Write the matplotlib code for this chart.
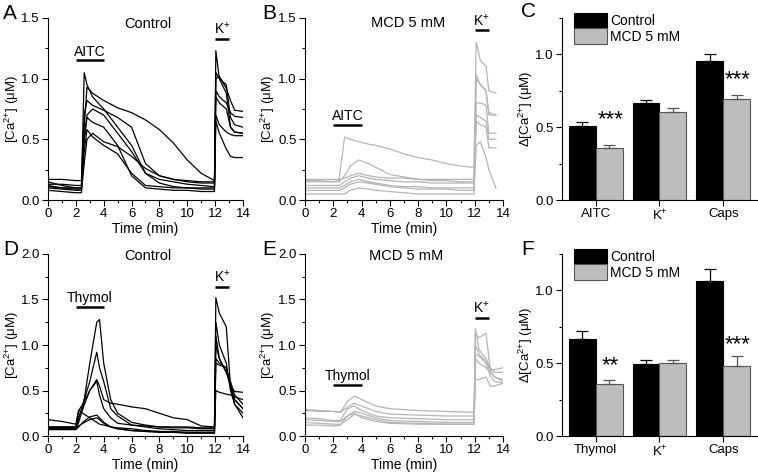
import numpy as np
import matplotlib
matplotlib.use("Agg")
import matplotlib.pyplot as plt
from matplotlib.ticker import MultipleLocator, FormatStrFormatter

plt.rcParams['font.family'] = ['Liberation Sans', 'DejaVu Sans']
plt.rcParams['font.size'] = 10
plt.rcParams['mathtext.fontset'] = 'custom'
plt.rcParams['mathtext.rm'] = 'Liberation Sans'
plt.rcParams['mathtext.it'] = 'Liberation Sans:italic'
plt.rcParams['mathtext.bf'] = 'Liberation Sans:bold'

# ---- panel A: control, AITC ----
tA = [0, 1, 2, 2.4, 2.6, 2.8, 3.2, 4, 5, 6, 7, 8, 9, 10, 11, 11.95, 12.05, 12.3, 12.8, 13.1, 13.4, 14]
tracesA = [
    [0.13, 0.13, 0.12, 0.12, 0.60, 0.93, 0.88, 0.82, 0.76, 0.72, 0.66, 0.58, 0.47, 0.33, 0.22, 0.16, 1.00, 1.02, 0.92, 0.82, 0.74, 0.73],
    [0.15, 0.12, 0.10, 0.10, 1.05, 0.95, 0.85, 0.75, 0.60, 0.45, 0.22, 0.17, 0.15, 0.13, 0.12, 0.11, 1.23, 1.00, 0.88, 0.60, 0.56, 0.55],
    [0.17, 0.17, 0.16, 0.16, 0.70, 0.82, 0.78, 0.74, 0.68, 0.60, 0.30, 0.20, 0.17, 0.16, 0.15, 0.15, 1.05, 1.00, 0.95, 0.68, 0.62, 0.60],
    [0.12, 0.10, 0.10, 0.10, 0.50, 0.70, 0.75, 0.70, 0.55, 0.40, 0.22, 0.14, 0.11, 0.10, 0.09, 0.09, 0.90, 0.85, 0.80, 0.72, 0.69, 0.68],
    [0.10, 0.09, 0.08, 0.08, 0.50, 0.68, 0.64, 0.60, 0.45, 0.20, 0.10, 0.09, 0.08, 0.08, 0.07, 0.07, 0.85, 0.80, 0.75, 0.60, 0.56, 0.55],
    [0.11, 0.10, 0.09, 0.09, 0.40, 0.58, 0.52, 0.45, 0.38, 0.22, 0.12, 0.11, 0.10, 0.10, 0.10, 0.10, 0.70, 0.62, 0.56, 0.54, 0.53, 0.53],
    [0.08, 0.07, 0.06, 0.06, 0.30, 0.50, 0.55, 0.48, 0.44, 0.36, 0.26, 0.20, 0.17, 0.15, 0.14, 0.14, 0.65, 0.55, 0.42, 0.36, 0.35, 0.35],
]

# ---- panel B: MCD, AITC ----
tB = [0, 1, 2, 2.4, 2.8, 3.2, 3.8, 4.5, 5, 6, 7, 8, 9, 10, 11, 11.95, 12.1, 12.4, 12.8, 13.0, 13.5]
tracesB = [
    [0.15, 0.15, 0.15, 0.16, 0.52, 0.50, 0.48, 0.46, 0.45, 0.42, 0.38, 0.35, 0.33, 0.30, 0.28, 0.27, 1.30, 1.15, 1.10, 0.90, 0.88],
    [0.16, 0.16, 0.15, 0.15, 0.20, 0.28, 0.33, 0.30, 0.27, 0.21, 0.19, 0.17, 0.16, 0.16, 0.15, 0.15, 1.03, 0.95, 0.90, 0.72, 0.70],
    [0.17, 0.17, 0.17, 0.17, 0.18, 0.20, 0.22, 0.20, 0.19, 0.18, 0.18, 0.17, 0.17, 0.17, 0.17, 0.17, 1.00, 0.95, 0.90, 0.70, 0.70],
    [0.12, 0.12, 0.12, 0.12, 0.15, 0.18, 0.20, 0.18, 0.17, 0.16, 0.15, 0.15, 0.14, 0.14, 0.14, 0.14, 0.80, 0.80, 0.78, 0.55, 0.55],
    [0.10, 0.10, 0.10, 0.10, 0.12, 0.15, 0.17, 0.15, 0.14, 0.12, 0.11, 0.11, 0.10, 0.10, 0.10, 0.10, 0.65, 0.62, 0.60, 0.43, 0.43],
    [0.05, 0.05, 0.05, 0.05, 0.05, 0.08, 0.10, 0.09, 0.08, 0.07, 0.06, 0.05, 0.05, 0.05, 0.05, 0.05, 0.45, 0.48, 0.35, 0.25, 0.10],
    [0.08, 0.08, 0.08, 0.08, 0.10, 0.13, 0.15, 0.14, 0.13, 0.11, 0.10, 0.09, 0.09, 0.09, 0.08, 0.08, 0.70, 0.68, 0.65, 0.50, 0.50],
]

# ---- panel D: control, thymol ----
tD = [0, 1, 2, 2.2, 2.5, 3, 3.5, 3.7, 4, 4.5, 5, 6, 7, 8, 9, 10, 11, 11.95, 12.05, 12.3, 12.8, 13.1, 13.4, 14]
tracesD = [
    [0.08, 0.08, 0.08, 0.15, 0.30, 0.80, 1.25, 1.28, 0.80, 0.40, 0.25, 0.15, 0.12, 0.10, 0.09, 0.09, 0.08, 0.08, 1.25, 1.00, 0.80, 0.50, 0.35, 0.25],
    [0.08, 0.08, 0.08, 0.20, 0.35, 0.60, 0.92, 0.75, 0.60, 0.30, 0.22, 0.12, 0.10, 0.08, 0.07, 0.06, 0.06, 0.06, 1.52, 1.35, 1.20, 0.55, 0.40, 0.30],
    [0.10, 0.10, 0.10, 0.28, 0.35, 0.50, 0.62, 0.55, 0.40, 0.36, 0.35, 0.32, 0.30, 0.25, 0.20, 0.18, 0.11, 0.10, 0.50, 0.48, 0.46, 0.45, 0.43, 0.40],
    [0.18, 0.16, 0.13, 0.28, 0.25, 0.20, 0.15, 0.13, 0.12, 0.10, 0.09, 0.08, 0.06, 0.05, 0.05, 0.04, 0.04, 0.04, 0.80, 0.78, 0.75, 0.55, 0.49, 0.48],
    [0.07, 0.07, 0.07, 0.10, 0.15, 0.21, 0.23, 0.20, 0.15, 0.10, 0.08, 0.06, 0.05, 0.05, 0.04, 0.04, 0.04, 0.04, 1.10, 0.85, 0.70, 0.55, 0.40, 0.30],
    [0.09, 0.09, 0.09, 0.11, 0.14, 0.18, 0.20, 0.18, 0.14, 0.10, 0.08, 0.06, 0.05, 0.04, 0.04, 0.03, 0.03, 0.03, 0.85, 0.80, 0.75, 0.55, 0.35, 0.20],
    [0.10, 0.10, 0.10, 0.20, 0.30, 0.50, 0.60, 0.45, 0.30, 0.20, 0.14, 0.12, 0.11, 0.10, 0.10, 0.10, 0.09, 0.09, 1.00, 0.85, 0.70, 0.60, 0.45, 0.35],
]

# ---- panel E: MCD, thymol ----
tE = [0, 1, 2, 2.5, 3, 3.5, 4, 5, 6, 8, 10, 11.95, 12.05, 12.3, 12.8, 13.1, 13.4, 14]
tracesE = [
    [0.29, 0.28, 0.27, 0.26, 0.38, 0.44, 0.40, 0.33, 0.30, 0.28, 0.27, 0.26, 0.85, 0.80, 0.75, 0.70, 0.65, 0.60],
    [0.28, 0.27, 0.27, 0.26, 0.32, 0.36, 0.33, 0.27, 0.24, 0.23, 0.22, 0.22, 1.13, 1.08, 1.13, 0.72, 0.73, 0.75],
    [0.20, 0.19, 0.17, 0.17, 0.30, 0.33, 0.28, 0.22, 0.20, 0.19, 0.18, 0.18, 1.18, 0.95, 0.85, 0.75, 0.70, 0.70],
    [0.18, 0.17, 0.16, 0.16, 0.22, 0.27, 0.25, 0.20, 0.17, 0.16, 0.15, 0.15, 1.00, 0.90, 0.82, 0.72, 0.65, 0.62],
    [0.15, 0.14, 0.13, 0.13, 0.18, 0.24, 0.22, 0.18, 0.15, 0.14, 0.13, 0.13, 0.90, 0.88, 0.80, 0.66, 0.60, 0.58],
    [0.12, 0.12, 0.11, 0.12, 0.22, 0.25, 0.20, 0.16, 0.14, 0.13, 0.13, 0.13, 0.62, 0.62, 0.65, 0.55, 0.55, 0.58],
]

# ---- bar panels C and F ----
groupsC = ['AITC', 'K$^{+}$', 'Caps']
ctrlC = [0.51, 0.667, 0.952]
ctrlC_err = [0.024, 0.023, 0.053]
mcdC = [0.36, 0.603, 0.692]
mcdC_err = [0.015, 0.027, 0.029]
starsC = ['***', '', '***']
starsC_y = [0.555, 0, 0.825]

groupsF = ['Thymol', 'K$^{+}$', 'Caps']
ctrlF = [0.665, 0.496, 1.064]
ctrlF_err = [0.055, 0.024, 0.086]
mcdF = [0.357, 0.50, 0.478]
mcdF_err = [0.03, 0.02, 0.069]
starsF = ['**', '', '***']
starsF_y = [0.485, 0, 0.625]

GRAY_LINE = '#b5b5b5'
GRAY_BAR = '#bdbdbd'
CA = '[Ca$^{2{+}}$] (μM)'

fig = plt.figure(figsize=(7.58, 4.76), dpi=100)


def style_axis(ax):
    for s in ['top', 'right']:
        ax.spines[s].set_visible(False)
    ax.tick_params(which='major', direction='out', length=4, width=0.8, labelsize=9.5, pad=2)
    ax.tick_params(which='minor', direction='out', length=2.5, width=0.8)
    ax.yaxis.set_major_formatter(FormatStrFormatter('%.1f'))


def stim(ax, x0, x1, y, label):
    ax.plot([x0, x1], [y, y], color='k', lw=1.8, solid_capstyle='butt', clip_on=False)
    ax.text((x0 + x1) / 2, y + 0.01 * ax.get_ylim()[1], label, ha='center', va='bottom', fontsize=10)


def trace_panel(rect, t, traces, color, ymax, title, title_x, title_y):
    ax = fig.add_axes(rect)
    for tr in traces:
        ax.plot(t, tr, color=color, lw=0.9)
    ax.set_xlim(0, 14)
    ax.set_ylim(0, ymax)
    ax.xaxis.set_major_locator(MultipleLocator(2))
    ax.xaxis.set_minor_locator(MultipleLocator(1))
    ax.yaxis.set_major_locator(MultipleLocator(0.5))
    ax.yaxis.set_minor_locator(MultipleLocator(0.25))
    style_axis(ax)
    ax.set_xlabel('Time (min)', labelpad=1)
    ax.set_ylabel(CA, fontsize=9.5)
    ax.yaxis.set_label_coords(-0.14, 0.5)
    ax.text(title_x, title_y, title, transform=ax.transAxes, ha='center', va='center', fontsize=10.5)
    return ax


def bar_panel(rect, groups, ctrl, ctrl_err, mcd, mcd_err, stars, stars_y):
    ax = fig.add_axes(rect)
    x = np.arange(len(groups))
    w = 0.42
    ax.bar(x - w / 2, ctrl, w, color='k', edgecolor='k', lw=0.8, label='Control')
    ax.bar(x + w / 2, mcd, w, color=GRAY_BAR, edgecolor='#555555', lw=0.8, label='MCD 5 mM')
    ax.errorbar(x - w / 2, ctrl, yerr=[np.zeros(len(x)), ctrl_err], fmt='none',
                ecolor='k', elinewidth=0.9, capsize=4, capthick=0.9)
    ax.errorbar(x + w / 2, mcd, yerr=[np.zeros(len(x)), mcd_err], fmt='none',
                ecolor='#555555', elinewidth=0.9, capsize=4, capthick=0.9)
    for xi, s, sy in zip(x, stars, stars_y):
        if s:
            ax.text(xi + w / 2 + 0.02, sy, s, ha='center', va='center', fontsize=16)
    ax.set_xlim(-0.53, 2.53)
    ax.set_ylim(0, 1.25)
    ax.set_xticks(x)
    ax.set_xticklabels(groups, fontsize=10)
    ax.yaxis.set_major_locator(MultipleLocator(0.5))
    ax.yaxis.set_minor_locator(MultipleLocator(0.25))
    style_axis(ax)
    ax.set_ylabel('Δ' + CA, fontsize=9.5)
    ax.yaxis.set_label_coords(-0.14, 0.5)
    ax.legend(loc='upper left', bbox_to_anchor=(0.06, 1.03), frameon=False, fontsize=10,
              handlelength=2.4, handleheight=1.35, handletextpad=0.2, labelspacing=0.0,
              borderaxespad=0, borderpad=0)
    return ax


axA = trace_panel([0.0633, 0.5798, 0.2573, 0.3824], tA, tracesA, 'k', 1.5, 'Control', 0.51, 0.967)
stim(axA, 2, 4, 1.15, 'AITC')
stim(axA, 12, 13, 1.33, 'K$^{+}$')

axB = trace_panel([0.4024, 0.5798, 0.2612, 0.3824], tB, tracesB, GRAY_LINE, 1.5, 'MCD 5 mM', 0.52, 0.975)
stim(axB, 2, 4, 0.62, 'AITC')
stim(axB, 12, 13, 1.40, 'K$^{+}$')

axC = bar_panel([0.7414, 0.5798, 0.2573, 0.3824], groupsC, ctrlC, ctrlC_err, mcdC, mcdC_err, starsC, starsC_y)

axD = trace_panel([0.0633, 0.0840, 0.2573, 0.3824], tD, tracesD, 'k', 2.0, 'Control', 0.51, 0.99)
stim(axD, 2, 4, 1.42, 'Thymol')
stim(axD, 12, 13, 1.64, 'K$^{+}$')

axE = trace_panel([0.4024, 0.0840, 0.2612, 0.3824], tE, tracesE, GRAY_LINE, 2.0, 'MCD 5 mM', 0.51, 0.99)
stim(axE, 2, 4, 0.56, 'Thymol')
stim(axE, 12, 13, 1.30, 'K$^{+}$')

axF = bar_panel([0.7414, 0.0840, 0.2573, 0.3824], groupsF, ctrlF, ctrlF_err, mcdF, mcdF_err, starsF, starsF_y)

# panel letters
for lbl, (px, py) in zip('ABCDEF', [(3, 4), (262, 4), (521, 2), (3, 240), (262, 240), (521, 240)]):
    fig.text(px / 758, 1 - py / 476, lbl, ha='left', va='top', fontsize=15)

fig.savefig('out.png', dpi=100)
